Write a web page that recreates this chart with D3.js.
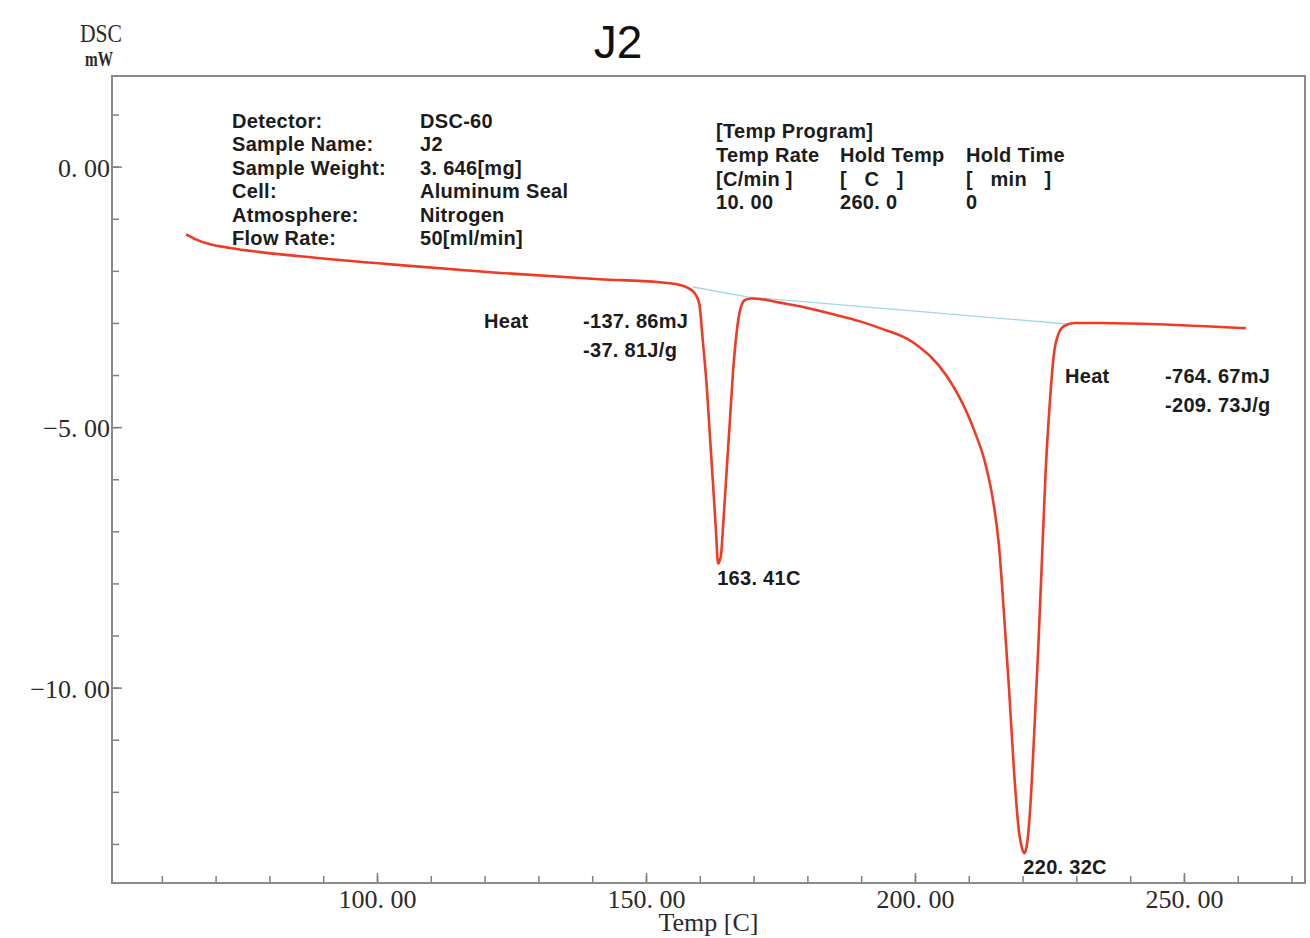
<!DOCTYPE html>
<html lang="en">

<head>
  <meta charset="UTF-8">
  <title>DSC - J2</title>
  <script src="https://d3js.org/d3.v7.min.js"></script>
  <style>
    body {
      margin: 0;
      background: #ffffff;
    }

    .info text {
      font-family: "Liberation Sans", Arial, sans-serif;
      font-size: 20px;
      font-weight: bold;
      letter-spacing: 0.3px;
      fill: #1c1c1c;
      white-space: pre;
    }

    .serif {
      font-family: "Liberation Serif", "DejaVu Serif", serif;
      fill: #2a2a2a;
    }
  </style>
</head>

<body>
  <div id="chart"></div>
  <script>
    // DSC trace (temperature in C, heat flow in mW)
    const temps = [64.5, 66.2, 69.0, 72.7, 78.3, 85.7, 104.3, 122.9, 141.4, 152.6, 156.3, 158.8, 159.9, 160.5, 161.3,
      161.9, 162.5, 163.0, 163.41, 163.9, 164.4, 165.0, 165.6, 166.2, 166.9, 167.5, 168.4, 169.6, 171.8, 174.9,
      178.6, 184.2, 189.8, 193.5, 199.6, 205.9, 209.6, 211.15, 213.0, 214.5, 215.6, 216.5, 217.5, 218.4, 219.3, 219.9,
      220.32, 220.8, 221.4, 222.1, 222.9, 223.6, 224.3, 225.1, 225.8, 226.6, 227.7, 229.7, 234.4, 243.7, 253.0, 261.5];
    const dsc = [-1.30, -1.39, -1.49, -1.56, -1.64, -1.72, -1.89, -2.04, -2.16, -2.22, -2.27, -2.40, -2.63, -3.27, -4.23,
      -5.19, -6.15, -6.98, -7.62, -7.49, -6.79, -5.83, -4.87, -3.91, -3.14, -2.75, -2.56, -2.53, -2.55, -2.61,
      -2.68, -2.82, -2.97, -3.10, -3.37, -4.02, -4.71, -5.10, -5.67, -6.40, -7.26, -8.51, -10.05, -11.58, -12.74, -13.08,
      -13.18, -13.02, -12.35, -11.01, -9.28, -7.55, -5.83, -4.48, -3.62, -3.23, -3.06, -3.00, -3.00, -3.02, -3.06, -3.10];

    // integration baselines
    const baseTemps = [158.7, 168.8, 228.3];
    const baseDsc = [-2.31, -2.50, -3.02];

    // ticks
    const xMajor = [100, 150, 200, 250];
    const xMinor = d3.range(60, 271, 10);
    const yMajor = [0, -5, -10];
    const yMinor = d3.range(-13, 2, 1);

    // peaks
    const peakTemps = [163.41, 220.32];
    const peakDsc = [-7.62, -13.18];
    const peakLabels = ["163. 41C", "220. 32C"];
    const heatLabels = ["-137. 86mJ", "-764. 67mJ"];
    const heatPerMass = ["-37. 81J/g", "-209. 73J/g"];

    // header text
    const infoKeys = ["Detector:", "Sample Name:", "Sample Weight:", "Cell:", "Atmosphere:", "Flow Rate:"];
    const infoValues = ["DSC-60", "J2", "3. 646[mg]", "Aluminum Seal", "Nitrogen", "50[ml/min]"];
    const programTitle = "[Temp Program]";
    const programCols = [
      ["Temp Rate", "[C/min ]", "10. 00"],
      ["Hold Temp", "[   C   ]", "260. 0"],
      ["Hold Time", "[   min   ]", "0"]
    ];

    const W = 1310, H = 938;
    const margin = {top: 76, right: 5, bottom: 55, left: 112};
    const width = W - margin.left - margin.right,
      height = H - margin.top - margin.bottom;

    const svg = d3.select("#chart").append("svg")
      .attr("width", W)
      .attr("height", H);

    const g = svg.append("g")
      .attr("transform", "translate(" + margin.left + "," + margin.top + ")");

    const x = d3.scaleLinear().domain([50.74, 272.5]).range([0, width]);
    const y = d3.scaleLinear().domain([1.74, -13.75]).range([0, height]);

    const fmt = d => d3.format(".2f")(d).replace(".", ". ");

    // minor ticks (inward)
    const xMinorAxis = g.append("g")
      .attr("transform", "translate(0," + height + ")")
      .call(d3.axisBottom(x).tickValues(xMinor).tickSize(-7).tickFormat(""));
    const xMajorAxis = g.append("g")
      .attr("transform", "translate(0," + height + ")")
      .call(d3.axisBottom(x).tickValues(xMajor).tickSize(-10).tickPadding(6).tickFormat(fmt));
    const yMinorAxis = g.append("g")
      .call(d3.axisLeft(y).tickValues(yMinor).tickSize(-7).tickFormat(""));
    const yMajorAxis = g.append("g")
      .call(d3.axisLeft(y).tickValues(yMajor).tickSize(-10).tickPadding(2).tickFormat(fmt));

    [xMinorAxis, xMajorAxis, yMinorAxis, yMajorAxis].forEach(a => {
      a.select(".domain").remove();
      a.selectAll("line").attr("stroke", "#808080").attr("stroke-width", 1.5);
      a.selectAll("text")
        .attr("class", "serif")
        .attr("font-size", 26)
        .attr("font-family", null)
        .attr("fill", "#2a2a2a");
    });
    xMajorAxis.selectAll("text").attr("dy", "0.72em");
    yMajorAxis.selectAll("text").attr("dy", "0.36em");

    // frame
    g.append("rect")
      .attr("width", width)
      .attr("height", height)
      .attr("fill", "none")
      .attr("stroke", "#8a8a8a")
      .attr("stroke-width", 2);

    // baseline
    const baseData = baseTemps.map((t, i) => [t, baseDsc[i]]);
    g.append("path")
      .datum(baseData)
      .attr("fill", "none")
      .attr("stroke", "#9ed6ea")
      .attr("stroke-width", 1.3)
      .attr("d", d3.line().x(d => x(d[0])).y(d => y(d[1])));

    // DSC curve
    const curveData = temps.map((t, i) => [t, dsc[i]]);
    g.append("path")
      .datum(curveData)
      .attr("fill", "none")
      .attr("stroke", "#ef3a26")
      .attr("stroke-width", 2.6)
      .attr("d", d3.line().curve(d3.curveMonotoneX).x(d => x(d[0])).y(d => y(d[1])));

    // axis titles
    svg.append("text").attr("class", "serif")
      .attr("x", 101).attr("y", 42)
      .attr("text-anchor", "middle")
      .attr("font-size", 26)
      .attr("textLength", 42).attr("lengthAdjust", "spacingAndGlyphs")
      .text("DSC");
    svg.append("text").attr("class", "serif")
      .attr("x", 99).attr("y", 66)
      .attr("text-anchor", "middle")
      .attr("font-size", 20)
      .attr("font-weight", "bold")
      .attr("textLength", 28).attr("lengthAdjust", "spacingAndGlyphs")
      .text("mW");
    svg.append("text").attr("class", "serif")
      .attr("x", margin.left + width / 2).attr("y", 931)
      .attr("text-anchor", "middle")
      .attr("font-size", 26)
      .text("Temp [C]");

    // title
    svg.append("text")
      .attr("x", 618).attr("y", 58)
      .attr("text-anchor", "middle")
      .attr("font-family", "Liberation Sans, Arial, sans-serif")
      .attr("font-size", 46)
      .attr("fill", "#111")
      .text("J2");

    // measurement info
    const info = svg.append("g").attr("class", "info");
    infoKeys.forEach((k, i) => {
      info.append("text").attr("x", 232).attr("y", 128 + i * 23.4).text(k);
      info.append("text").attr("x", 420).attr("y", 128 + i * 23.4).text(infoValues[i]);
    });
    info.append("text").attr("x", 716).attr("y", 138).text(programTitle);
    const colX = [716, 840, 966];
    programCols.forEach((col, c) => {
      col.forEach((s, r) => {
        info.append("text").attr("x", colX[c]).attr("y", 162 + r * 23.6).text(s);
      });
    });

    // peak annotations
    const ann = svg.append("g").attr("class", "info");
    const heatPos = [[484, 583, 328], [1065, 1165, 383]];
    peakTemps.forEach((t, i) => {
      ann.append("text")
        .attr("x", margin.left + x(t) - 1)
        .attr("y", margin.top + y(peakDsc[i]) + 21)
        .text(peakLabels[i]);
      const p = heatPos[i];
      ann.append("text").attr("x", p[0]).attr("y", p[2]).text("Heat");
      ann.append("text").attr("x", p[1]).attr("y", p[2]).text(heatLabels[i]);
      ann.append("text").attr("x", p[1]).attr("y", p[2] + 29).text(heatPerMass[i]);
    });
  </script>
</body>

</html>
